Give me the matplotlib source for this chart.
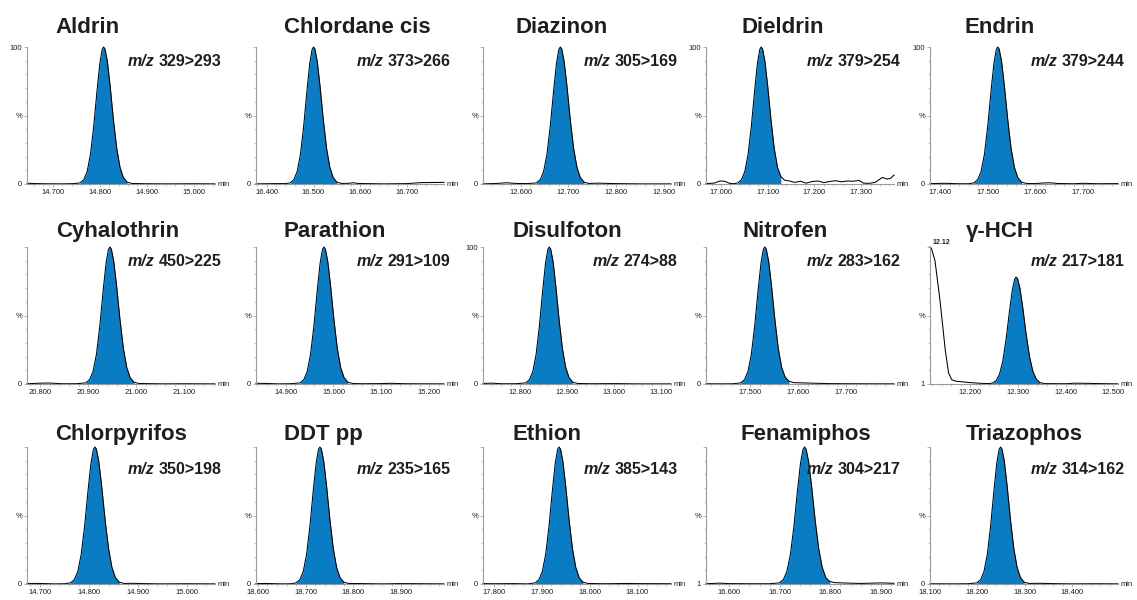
import numpy as np
import matplotlib.pyplot as plt
from matplotlib.ticker import MultipleLocator

plt.rcParams['font.family'] = ['Liberation Sans', 'DejaVu Sans']

# --- compounds, transitions, axis ranges -----------------------------------
names = ["Aldrin", "Chlordane cis", "Diazinon", "Dieldrin", "Endrin",
         "Cyhalothrin", "Parathion", "Disulfoton", "Nitrofen", "\u03b3-HCH",
         "Chlorpyrifos", "DDT pp", "Ethion", "Fenamiphos", "Triazophos"]
transitions = ["329>293", "373>266", "305>169", "379>254", "379>244",
               "450>225", "291>109", "274>88", "283>162", "217>181",
               "350>198", "235>165", "385>143", "304>217", "314>162"]
x_ranges = [(14.645, 15.045), (16.377, 16.779), (12.521, 12.915), (16.968, 17.370), (17.379, 17.773),
            (20.773, 21.163), (14.838, 15.231), (12.721, 13.121), (17.409, 17.799), (12.115, 12.510),
            (14.673, 15.058), (18.596, 18.990), (17.777, 18.170), (16.554, 16.926), (18.100, 18.497)]
x_ticks = [[14.7, 14.8, 14.9, 15.0], [16.4, 16.5, 16.6, 16.7], [12.6, 12.7, 12.8, 12.9],
           [17.0, 17.1, 17.2, 17.3], [17.4, 17.5, 17.6, 17.7],
           [20.8, 20.9, 21.0, 21.1], [14.9, 15.0, 15.1, 15.2], [12.8, 12.9, 13.0, 13.1],
           [17.5, 17.6, 17.7], [12.2, 12.3, 12.4, 12.5],
           [14.7, 14.8, 14.9, 15.0], [18.6, 18.7, 18.8, 18.9], [17.8, 17.9, 18.0, 18.1],
           [16.6, 16.7, 16.8, 16.9], [18.1, 18.2, 18.3, 18.4]]
y_bottom_labels = ["0", "0", "0", "0", "0", "0", "0", "0", "0", "1",
                   "0", "0", "0", "1", "0"]
show_100 = [True, False, False, True, True, False, False, True, False, False,
            False, False, False, False, False]
peak_windows = [(14.758, 14.858), (16.450, 16.550), (12.633, 12.733), (17.036, 17.128), (17.471, 17.571),
                (20.895, 20.995), (14.930, 15.030), (12.812, 12.912), (17.481, 17.581), (12.246, 12.346),
                (14.762, 14.862), (18.680, 18.780), (17.886, 17.986), (16.699, 16.799), (18.199, 18.299)]

# --- traces (time in min, relative intensity in %) -------------------------
aldrin_t = [14.645, 14.680, 14.720, 14.745, 14.758, 14.766, 14.773, 14.780, 14.787, 14.794, 14.800, 14.805,
            14.808, 14.811, 14.816, 14.822, 14.829, 14.836, 14.843, 14.850, 14.858, 14.868,
            14.900, 14.950, 15.000, 15.045]
aldrin_i = [0.5, 0.2, 0.1, 0.3, 0.8, 3.2, 9.1, 21.6, 42.3, 68.2, 88.2, 98.3,
            100, 98.5, 89.5, 71.2, 46.6, 25.8, 12.0, 4.7, 1.3, 0.4,
            0.2, 0.1, 0.2, 0.1]

chlordane_t = [16.377, 16.420, 16.440, 16.450, 16.458, 16.465, 16.472, 16.479, 16.486, 16.492, 16.497,
               16.500, 16.503, 16.508, 16.514, 16.521, 16.528, 16.535, 16.542, 16.550, 16.560,
               16.575, 16.585, 16.595, 16.650, 16.700, 16.730, 16.779]
chlordane_i = [0.1, 0.3, 0.3, 0.8, 3.2, 9.1, 21.6, 42.3, 68.2, 88.2, 98.3,
               100, 98.5, 89.5, 71.2, 46.6, 25.8, 12.0, 4.7, 1.3, 0.4,
               0.5, 0.9, 0.4, 0.1, 0.3, 1.0, 1.2]

diazinon_t = [12.521, 12.550, 12.570, 12.590, 12.615, 12.633, 12.641, 12.648, 12.655, 12.662, 12.669,
              12.675, 12.680, 12.683, 12.686, 12.691, 12.697, 12.704, 12.711, 12.718, 12.725,
              12.733, 12.743, 12.760, 12.800, 12.850, 12.915]
diazinon_i = [0.1, 0.4, 0.9, 0.4, 0.3, 0.8, 3.2, 9.1, 21.6, 42.3, 68.2,
              88.2, 98.3, 100, 98.5, 89.5, 71.2, 46.6, 25.8, 12.0, 4.7,
              1.3, 0.4, 0.6, 0.3, 0.1, 0.1]

dieldrin_t = [16.968, 16.985, 16.998, 17.008, 17.018, 17.028, 17.036, 17.044, 17.051, 17.058, 17.065,
              17.072, 17.078, 17.083, 17.086, 17.089, 17.094, 17.100, 17.107, 17.114, 17.121,
              17.128, 17.136, 17.146, 17.158, 17.170, 17.182, 17.195, 17.208, 17.220, 17.232,
              17.245, 17.258, 17.270, 17.282, 17.295, 17.305, 17.318, 17.330, 17.345, 17.355,
              17.362, 17.370]
dieldrin_i = [0.3, 0.6, 2.2, 2.0, 0.5, 0.2, 0.8, 3.2, 9.1, 21.6, 42.3,
              68.2, 88.2, 98.3, 100, 98.5, 89.5, 71.2, 46.6, 25.8, 12.0,
              5.5, 2.8, 2.2, 1.2, 2.0, 0.6, 1.8, 2.2, 1.0, 1.8,
              2.4, 1.6, 2.2, 2.0, 2.6, 0.6, 0.5, 1.2, 4.8, 3.6,
              4.0, 6.5]

endrin_t = [17.379, 17.410, 17.440, 17.460, 17.471, 17.479, 17.486, 17.493, 17.500, 17.507, 17.513,
            17.518, 17.521, 17.524, 17.529, 17.535, 17.542, 17.549, 17.556, 17.563, 17.571,
            17.581, 17.600, 17.615, 17.630, 17.645, 17.680, 17.700, 17.730, 17.773]
endrin_i = [0.3, 0.5, 0.2, 0.2, 0.8, 3.2, 9.1, 21.6, 42.3, 68.2, 88.2,
            98.3, 100, 98.5, 89.5, 71.2, 46.6, 25.8, 12.0, 4.7, 1.3,
            0.4, 0.3, 0.7, 0.9, 0.4, 0.2, 0.5, 0.2, 0.3]

cyhalothrin_t = [20.773, 20.800, 20.820, 20.845, 20.875, 20.895, 20.903, 20.910, 20.917, 20.924, 20.931,
                 20.937, 20.942, 20.945, 20.948, 20.953, 20.959, 20.966, 20.973, 20.980, 20.987,
                 20.995, 21.005, 21.020, 21.060, 21.100, 21.163]
cyhalothrin_i = [0.2, 0.6, 0.7, 0.2, 0.2, 0.8, 3.2, 9.1, 21.6, 42.3, 68.2,
                 88.2, 98.3, 100, 98.5, 89.5, 71.2, 46.6, 25.8, 12.0, 4.7,
                 1.3, 0.4, 0.3, 0.1, 0.2, 0.1]

parathion_t = [14.838, 14.860, 14.885, 14.910, 14.930, 14.938, 14.945, 14.952, 14.959, 14.966, 14.972,
               14.977, 14.980, 14.983, 14.988, 14.994, 15.001, 15.008, 15.015, 15.022, 15.030,
               15.040, 15.060, 15.100, 15.120, 15.150, 15.231]
parathion_i = [0.5, 0.4, 0.1, 0.2, 0.8, 3.2, 9.1, 21.6, 42.3, 68.2, 88.2,
               98.3, 100, 98.5, 89.5, 71.2, 46.6, 25.8, 12.0, 4.7, 1.3,
               0.4, 0.2, 0.3, 0.5, 0.2, 0.1]

disulfoton_t = [12.721, 12.740, 12.760, 12.790, 12.812, 12.820, 12.827, 12.834, 12.841, 12.848, 12.854,
                12.859, 12.862, 12.865, 12.870, 12.876, 12.883, 12.890, 12.897, 12.904, 12.912,
                12.922, 12.950, 13.000, 13.050, 13.121]
disulfoton_i = [0.4, 0.6, 0.2, 0.2, 0.8, 3.2, 9.1, 21.6, 42.3, 68.2, 88.2,
                98.3, 100, 98.5, 89.5, 71.2, 46.6, 25.8, 12.0, 4.7, 1.3,
                0.4, 0.2, 0.3, 0.1, 0.1]

nitrofen_t = [17.409, 17.440, 17.465, 17.481, 17.489, 17.496, 17.503, 17.510, 17.517, 17.523, 17.528,
              17.531, 17.534, 17.539, 17.545, 17.552, 17.559, 17.566, 17.573, 17.581, 17.591,
              17.610, 17.630, 17.660, 17.700, 17.799]
nitrofen_i = [0.2, 0.1, 0.2, 0.8, 3.2, 9.1, 21.6, 42.3, 68.2, 88.2, 98.3,
              100, 98.5, 89.5, 71.2, 46.6, 25.8, 12.0, 5.2, 2.0, 1.0,
              0.8, 0.6, 0.3, 0.2, 0.1]

hch_t = [12.115, 12.118, 12.1255, 12.136, 12.147, 12.154, 12.161, 12.170, 12.180, 12.200, 12.221,
         12.238, 12.246, 12.254, 12.261, 12.268, 12.275, 12.282, 12.288, 12.293, 12.296,
         12.299, 12.304, 12.310, 12.317, 12.324, 12.331, 12.338, 12.346, 12.356,
         12.400, 12.420, 12.440, 12.470, 12.510]
hch_i = [100, 99, 90, 61, 25, 8, 3, 2.0, 1.7, 1.0, 0.5,
         0.3, 0.6, 2.5, 7.1, 16.8, 33.0, 53.2, 68.8, 76.7, 78,
         76.8, 69.8, 55.5, 36.3, 20.1, 9.4, 3.7, 1.0, 0.3,
         0.2, 0.6, 0.5, 0.3, 0.1]

chlorpyrifos_t = [14.673, 14.700, 14.730, 14.750, 14.762, 14.770, 14.777, 14.784, 14.791, 14.798, 14.804,
                  14.809, 14.812, 14.815, 14.820, 14.826, 14.833, 14.840, 14.847, 14.854, 14.862,
                  14.872, 14.890, 14.910, 14.950, 15.000, 15.058]
chlorpyrifos_i = [0.4, 0.4, 0.1, 0.2, 0.8, 3.2, 9.1, 21.6, 42.3, 68.2, 88.2,
                  98.3, 100, 98.5, 89.5, 71.2, 46.6, 25.8, 12.0, 4.7, 1.3,
                  0.4, 0.5, 0.3, 0.1, 0.2, 0.1]

ddt_t = [18.596, 18.620, 18.650, 18.670, 18.680, 18.688, 18.695, 18.702, 18.709, 18.716, 18.722,
         18.727, 18.730, 18.733, 18.738, 18.744, 18.751, 18.758, 18.765, 18.772, 18.780,
         18.790, 18.820, 18.860, 18.900, 18.990]
ddt_i = [0.3, 0.4, 0.1, 0.2, 0.8, 3.2, 9.1, 21.6, 42.3, 68.2, 88.2,
         98.3, 100, 98.5, 89.5, 71.2, 46.6, 25.8, 12.0, 4.7, 1.3,
         0.4, 0.3, 0.1, 0.3, 0.1]

ethion_t = [17.777, 17.800, 17.840, 17.870, 17.886, 17.894, 17.901, 17.908, 17.915, 17.922, 17.928,
            17.933, 17.936, 17.939, 17.944, 17.950, 17.957, 17.964, 17.971, 17.978, 17.986,
            17.996, 18.030, 18.080, 18.100, 18.170]
ethion_i = [0.3, 0.2, 0.3, 0.1, 0.8, 3.2, 9.1, 21.6, 42.3, 68.2, 88.2,
            98.3, 100, 98.5, 89.5, 71.2, 46.6, 25.8, 12.0, 4.7, 1.3,
            0.4, 0.2, 0.4, 0.3, 0.2]

fenamiphos_t = [16.554, 16.580, 16.600, 16.640, 16.680, 16.699, 16.707, 16.714, 16.721, 16.728, 16.735,
                16.741, 16.746, 16.749, 16.752, 16.757, 16.763, 16.770, 16.777, 16.784, 16.791,
                16.799, 16.809, 16.830, 16.860, 16.900, 16.926]
fenamiphos_i = [0.2, 0.6, 0.3, 0.2, 0.2, 0.8, 3.2, 9.1, 21.6, 42.3, 68.2,
                88.2, 98.3, 100, 98.5, 89.5, 71.2, 46.6, 25.8, 12.0, 4.7,
                1.8, 1.0, 0.7, 0.4, 0.8, 0.5]

triazophos_t = [18.100, 18.150, 18.180, 18.199, 18.207, 18.214, 18.221, 18.228, 18.235, 18.241, 18.246,
                18.249, 18.252, 18.257, 18.263, 18.270, 18.277, 18.284, 18.291, 18.299, 18.309,
                18.330, 18.360, 18.400, 18.450, 18.497]
triazophos_i = [0.2, 0.1, 0.2, 0.8, 3.2, 9.1, 21.6, 42.3, 68.2, 88.2, 98.3,
                100, 98.5, 89.5, 71.2, 46.6, 25.8, 12.0, 4.7, 1.3, 0.4,
                0.5, 0.3, 0.1, 0.2, 0.1]

traces = [(aldrin_t, aldrin_i), (chlordane_t, chlordane_i), (diazinon_t, diazinon_i),
          (dieldrin_t, dieldrin_i), (endrin_t, endrin_i),
          (cyhalothrin_t, cyhalothrin_i), (parathion_t, parathion_i), (disulfoton_t, disulfoton_i),
          (nitrofen_t, nitrofen_i), (hch_t, hch_i),
          (chlorpyrifos_t, chlorpyrifos_i), (ddt_t, ddt_i), (ethion_t, ethion_i),
          (fenamiphos_t, fenamiphos_i), (triazophos_t, triazophos_i)]

# --- layout (pixels of a 1137x600 canvas) -----------------------------------
W, H = 1137, 600
col_left = [27, 256, 483, 706, 930]
row_base = [184, 384, 584]
ax_w, ax_h = 188, 137
title_x = [0.32, 0.54, 0.42, 0.41, 0.37,
           0.48, 0.42, 0.45, 0.42, 0.37,
           0.50, 0.36, 0.34, 0.53, 0.50]
title_rise = [14, 10, 7]
mz_y = [0.84, 0.84, 0.78]

BLUE = "#0a7cc4"
GREY = "#9a9a9a"
INK = "#1e1e1e"

fig = plt.figure(figsize=(W / 100, H / 100), dpi=100)

for k, name in enumerate(names):
    r, c = divmod(k, 5)
    ax = fig.add_axes([col_left[c] / W, 1 - row_base[r] / H, ax_w / W, ax_h / H])
    t = np.array(traces[k][0])
    y = np.array(traces[k][1])
    lo, hi = peak_windows[k]
    mask = (t >= lo - 1e-6) & (t <= hi + 1e-6)
    ax.fill_between(t, y, 0, where=mask, color=BLUE, lw=0)
    ax.plot(t, y, color="black", lw=0.75, clip_on=False)

    ax.set_xlim(*x_ranges[k])
    ax.set_ylim(0, 100)
    for s in ("top", "right"):
        ax.spines[s].set_visible(False)
    for s in ("left", "bottom"):
        ax.spines[s].set_color(GREY)
        ax.spines[s].set_linewidth(0.8)

    ax.set_xticks(x_ticks[k])
    ax.set_xticklabels(["%.3f" % v for v in x_ticks[k]])
    ax.xaxis.set_minor_locator(MultipleLocator(0.02))
    ax.set_yticks([0, 50, 100])
    ax.set_yticklabels([y_bottom_labels[k], "%", "100" if show_100[k] else ""])
    ax.yaxis.set_minor_locator(MultipleLocator(10))
    ax.tick_params(which="major", length=2, width=0.5, color=GREY,
                   labelsize=5.5, labelcolor=INK, pad=1.5)
    ax.tick_params(which="minor", length=1.2, width=0.4, color=GREY)

    ax.text(1.012, 0, "min", transform=ax.transAxes, ha="left", va="center",
            fontsize=5.5, color=INK)
    ax.text(title_x[k], 1 + title_rise[r] / ax_h, name, transform=ax.transAxes,
            ha="center", va="baseline", fontsize=16, fontweight="bold", color=INK)

    # transition label: bold number, bold-italic "m/z" placed to its left
    num = ax.text(1.035, mz_y[r], transitions[k], transform=ax.transAxes,
                  ha="right", va="bottom", fontsize=11.5, fontweight="bold", color=INK)
    ax.annotate("m/z", xy=(0, 0), xycoords=num, xytext=(-3.2, 0),
                textcoords="offset points", ha="right", va="bottom",
                fontsize=11.5, fontweight="bold", fontstyle="italic", color=INK)

    if name == "\u03b3-HCH":
        ax.text(hch_t[0] + 0.006, 100.5, "%.2f" % hch_t[0], fontsize=5,
                fontweight="bold", ha="left", va="bottom", color=INK, clip_on=False)

fig.savefig("out.png", dpi=100, facecolor="white")
